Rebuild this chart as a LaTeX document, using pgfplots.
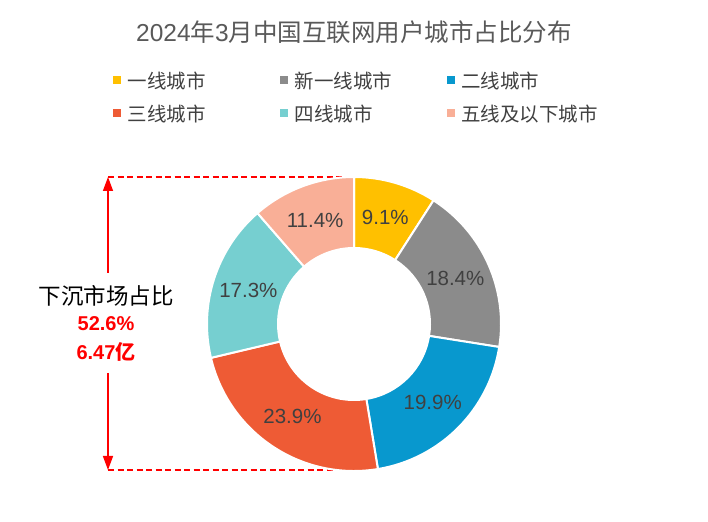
\documentclass[border=0pt]{standalone}
\usepackage{pgfplots}
\pgfplotsset{compat=1.18}
\usepackage{pgfplotstable}
\usetikzlibrary{arrows.meta}
\usepackage{fontspec}
\setmainfont{Noto Sans CJK SC}
\newfontfamily\lat{Liberation Sans}
\definecolor{slice0}{HTML}{FFC000}
\definecolor{slice1}{HTML}{8B8B8B}
\definecolor{slice2}{HTML}{0898CE}
\definecolor{slice3}{HTML}{EE5B35}
\definecolor{slice4}{HTML}{76CFD0}
\definecolor{slice5}{HTML}{F9AF97}
\definecolor{titlegray}{HTML}{595959}
\definecolor{labelgray}{HTML}{404040}
\definecolor{annred}{HTML}{FF0000}

\pgfplotstableread{
value
9.1
18.4
19.9
23.9
17.3
11.4
}\slices

\begin{document}
\begin{tikzpicture}
\def\cum{0}
\pgfplotsforeachungrouped \i in {0,...,5}{%
  \pgfplotstablegetelem{\i}{value}\of\slices
  \let\val\pgfplotsretval
  \pgfmathsetmacro{\s}{90-3.6*\cum}%
  \pgfmathsetmacro{\newcum}{\cum+\val}%
  \pgfmathsetmacro{\e}{90-3.6*\newcum}%
  \pgfmathsetmacro{\m}{(\s+\e)/2}%
  \expandafter\xdef\csname sA\i\endcsname{\s}%
  \expandafter\xdef\csname eA\i\endcsname{\e}%
  \expandafter\xdef\csname mA\i\endcsname{\m}%
  \expandafter\xdef\csname vA\i\endcsname{\val}%
  \xdef\cum{\newcum}%
}
\begin{axis}[
  hide axis, scale only axis,
  width=708pt, height=521pt,
  xmin=-354, xmax=354, ymin=-197, ymax=324,
  clip=false,
  legend columns=3,
  legend image code/.code={\fill[#1] (0pt,-1pt) rectangle (7pt,6pt);},
  legend style={draw=none, fill=none, inner sep=0pt, row sep=13pt,
    at={(axis cs:-241.5,252)}, anchor=north west,
    nodes={inner sep=0pt, text height=16pt, text depth=4pt, font=\fontsize{19.5}{22}\selectfont, text=labelgray},
    /tikz/every odd column/.append style={column sep=7.5pt},
    /tikz/every even column/.append style={column sep=0pt}},
]
\path (axis cs:-354,-197) rectangle (axis cs:354,324);
% annotation lines (behind donut)
\draw[annred, line width=1.5pt, dash pattern=on 6pt off 3.5pt] (axis cs:-246,147) -- (axis cs:-2,147);
\draw[annred, line width=1.5pt, dash pattern=on 6pt off 3.5pt] (axis cs:-246,-146) -- (axis cs:20,-146);
\draw[annred, line width=1.5pt, -{Triangle[width=10pt,length=14pt]}] (axis cs:-246,51) -- (axis cs:-246,147);
\draw[annred, line width=1.5pt, -{Triangle[width=10pt,length=14pt]}] (axis cs:-246,-49) -- (axis cs:-246,-146);
\node[font=\fontsize{22.5}{26}\selectfont, text=black] at (axis cs:-248,28) {下沉市场占比};
\node[font=\fontsize{20}{24}\selectfont\bfseries, text=annred] at (axis cs:-248,0) {{\lat\bfseries 52.6\%}};
\node[font=\fontsize{20}{24}\selectfont\bfseries, text=annred] at (axis cs:-248,-28) {{\lat\bfseries 6.47}亿};
% donut
\pgfplotsinvokeforeach{0,...,5}{
  \filldraw[fill=slice#1, draw=white, line width=2pt, line join=round]
    (axis cs:{147*cos(\csname sA#1\endcsname)},{147*sin(\csname sA#1\endcsname)})
    arc[start angle=\csname sA#1\endcsname, end angle=\csname eA#1\endcsname, radius=147]
    -- (axis cs:{76*cos(\csname eA#1\endcsname)},{76*sin(\csname eA#1\endcsname)})
    arc[start angle=\csname eA#1\endcsname, end angle=\csname sA#1\endcsname, radius=76]
    -- cycle;
  \node[font=\lat\fontsize{20.5}{24}\selectfont, text=labelgray]
    at (axis cs:{111*cos(\csname mA#1\endcsname)},{111*sin(\csname mA#1\endcsname)})
    {\csname vA#1\endcsname\%};
}
% title
\node[font=\fontsize{24.5}{28}\selectfont, text=titlegray] at (axis cs:0,292) {{\lat 2024}年{\lat 3}月中国互联网用户城市占比分布};
% legend
\addlegendimage{slice0}\addlegendentry{\makebox[152pt][l]{一线城市}}
\addlegendimage{slice1}\addlegendentry{\makebox[152pt][l]{新一线城市}}
\addlegendimage{slice2}\addlegendentry{\makebox[152pt][l]{二线城市}}
\addlegendimage{slice3}\addlegendentry{\makebox[152pt][l]{三线城市}}
\addlegendimage{slice4}\addlegendentry{\makebox[152pt][l]{四线城市}}
\addlegendimage{slice5}\addlegendentry{\makebox[152pt][l]{五线及以下城市}}
\end{axis}
\end{tikzpicture}
\end{document}
